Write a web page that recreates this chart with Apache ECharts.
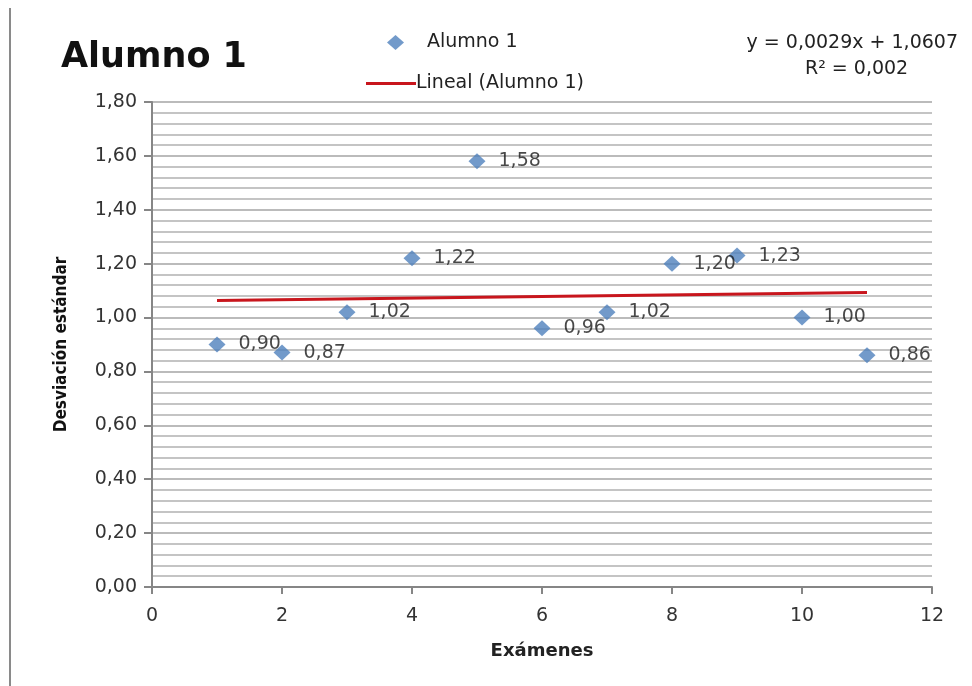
<!DOCTYPE html>
<html>
<head>
<meta charset="utf-8">
<script src="https://cdn.jsdelivr.net/npm/echarts@6/dist/echarts.min.js"></script>
<style>
  html, body { margin: 0; padding: 0; background: #fff; }
  #chart { width: 972px; height: 686px; }
</style>
</head>
<body>
<div id="chart"></div>
<script>
// Exam numbers and the standard deviation obtained in each one
const examenes = [1, 2, 3, 4, 5, 6, 7, 8, 9, 10, 11];
const desviacion = [0.90, 0.87, 1.02, 1.22, 1.58, 0.96, 1.02, 1.20, 1.23, 1.00, 0.86];

// Linear trend line coefficients (y = pendiente * x + intercepto) and fit quality
const pendiente = 0.0029;
const intercepto = 1.0607;
const r2 = 0.002;

// Axis ticks
const xTicks = [0, 2, 4, 6, 8, 10, 12];
const yTicks = [0, 0.2, 0.4, 0.6, 0.8, 1.0, 1.2, 1.4, 1.6, 1.8];

const coma = (v, d) => v.toFixed(d).replace('.', ',');

const puntos = examenes.map((x, i) => [x, desviacion[i]]);
const xIni = examenes[0], xFin = examenes[examenes.length - 1];
const tendencia = [
  [xIni, intercepto + pendiente * xIni],
  [xFin, intercepto + pendiente * xFin]
];

const font = '"DejaVu Sans", Verdana, sans-serif';
const chart = echarts.init(document.getElementById('chart'), null, { renderer: 'canvas' });

chart.setOption({
  animation: false,
  backgroundColor: '#ffffff',
  title: {
    text: 'Alumno 1',
    left: 56, top: 35,
    textStyle: { fontFamily: font, fontWeight: 'bold', fontSize: 35, color: '#111' }
  },
  legend: [
    {
      data: [{ name: 'Alumno 1', icon: 'diamond' }],
      left: 382, top: 28,
      itemWidth: 17, itemHeight: 15,
      textStyle: { fontFamily: font, fontSize: 19, color: '#222', padding: [0, 0, 0, 18] }
    },
    {
      data: [{ name: 'Lineal (Alumno 1)', icon: 'rect' }],
      left: 361, top: 69,
      itemWidth: 50, itemHeight: 3, itemGap: 0,
      textStyle: { fontFamily: font, fontSize: 19, color: '#222', padding: [0, 0, 0, -5] }
    }
  ],
  graphic: [
    {
      type: 'line',
      shape: { x1: 10, y1: 8, x2: 10, y2: 686 },
      style: { stroke: '#8a8a8a', lineWidth: 2 }
    },
    {
      type: 'text',
      right: 14, top: 34,
      style: { text: 'y = ' + coma(pendiente, 4) + 'x + ' + coma(intercepto, 4), font: '19px ' + font, fill: '#222' }
    },
    {
      type: 'text',
      left: 805, top: 60,
      style: { text: 'R² = ' + coma(r2, 3), font: '19px ' + font, fill: '#222' }
    }
  ],
  grid: { left: 152, right: 40, top: 102, bottom: 99, containLabel: false },
  xAxis: {
    type: 'value',
    min: xTicks[0], max: xTicks[xTicks.length - 1], interval: 2,
    name: 'Exámenes', nameLocation: 'middle', nameGap: 55,
    nameTextStyle: { fontFamily: font, fontWeight: 'bold', fontSize: 18, color: '#222' },
    axisLine: { show: true, lineStyle: { color: '#868686', width: 2 } },
    axisTick: { show: true, length: 7, lineStyle: { color: '#868686', width: 2 } },
    axisLabel: { fontFamily: font, fontSize: 19, color: '#333', margin: 20 },
    splitLine: { show: false }
  },
  yAxis: {
    type: 'value',
    min: yTicks[0], max: yTicks[yTicks.length - 1], interval: 0.2,
    name: 'Desviación estándar', nameLocation: 'middle', nameGap: 82, nameRotate: 90,
    nameTextStyle: { fontFamily: '"DejaVu Sans Condensed", "Liberation Sans Narrow", sans-serif', fontWeight: 'bold', fontSize: 17, color: '#111' },
    axisLine: { show: true, lineStyle: { color: '#868686', width: 2 } },
    axisTick: { show: true, length: 8, lineStyle: { color: '#868686', width: 2 } },
    axisLabel: { fontFamily: font, fontSize: 19, color: '#333', margin: 15, formatter: v => coma(v, 2) },
    splitLine: { show: true, lineStyle: { color: '#a4a4a4', width: 1.6 } },
    minorTick: { show: false, splitNumber: 5 },
    minorSplitLine: { show: true, lineStyle: { color: '#b0b0b0', width: 1.6 } }
  },
  series: [
    {
      name: 'Lineal (Alumno 1)',
      type: 'line',
      data: tendencia,
      symbol: 'none',
      lineStyle: { color: '#c8161d', width: 3 },
      itemStyle: { color: '#c8161d' },
      z: 2
    },
    {
      name: 'Alumno 1',
      type: 'scatter',
      data: puntos,
      symbol: 'diamond',
      symbolSize: [17, 16],
      itemStyle: { color: '#4f81bd' },
      label: {
        show: true, position: 'right', distance: 13,
        fontFamily: font, fontSize: 19, color: '#1a1a1a',
        formatter: p => coma(p.value[1], 2)
      },
      z: 3
    }
  ]
});
</script>
</body>
</html>
